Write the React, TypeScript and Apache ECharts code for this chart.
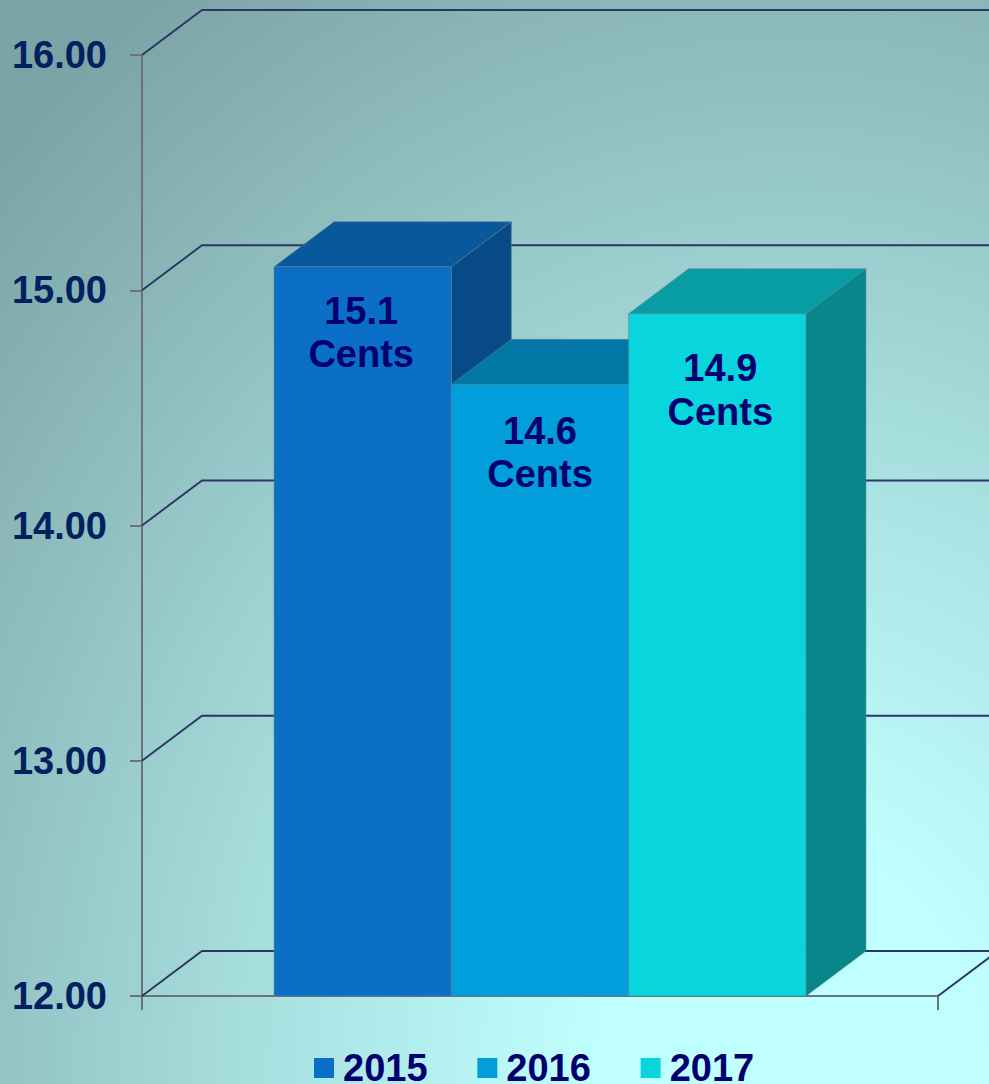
import React, { useEffect, useRef } from "react";
import * as echarts from "echarts";

const CATEGORIES = [""];
const YEARS = ["2015", "2016", "2017"];
const VALUES = [15.1, 14.6, 14.9];
const TICKS = [12, 13, 14, 15, 16];
const LABEL_UNIT = "Cents";

const FRONT = ["#0b6fc8", "#029edc", "#09d5dc"];
const TOP = ["#09589c", "#0378a6", "#089da4"];
const SIDE = ["#084a85", "#05668f", "#08878b"];
const LABEL_DY = [66, 68, 76];
const LABEL_DX = [-1.5, 0, 3];

const FONT = '"Liberation Sans", Arial, sans-serif';
const DEPTH_X = 60;
const DEPTH_Y = 45;
const BAR_RATIO = 177.3 / 796;
const EDGE = "rgba(90,130,140,0.55)";

export default function App() {
  const ref = useRef<HTMLDivElement>(null);
  useEffect(() => {
    document.body.style.margin = "0";
    const chart = echarts.init(ref.current!, null, { renderer: "svg" });

    const wallSeries: any = {
      type: "custom",
      name: "walls",
      z: 1,
      silent: true,
      data: TICKS.map((t) => [0, t]),
      renderItem: (params: any, api: any) => {
        const tick = api.value(1);
        const y = api.coord([0, tick])[1];
        const cs = params.coordSys;
        const x0 = cs.x;
        const x1 = cs.x + cs.width;
        const children: any[] = [
          {
            type: "polyline",
            shape: {
              points: [
                [x0, y],
                [x0 + DEPTH_X, y - DEPTH_Y],
                [x1 + DEPTH_X, y - DEPTH_Y],
              ],
            },
            style: { stroke: "#2c3564", lineWidth: 1.9, fill: "none" },
          },
        ];
        if (tick === TICKS[0]) {
          children.push({
            type: "line",
            shape: { x1, y1: y, x2: x1 + DEPTH_X, y2: y - DEPTH_Y },
            style: { stroke: "#2c3564", lineWidth: 1.9 },
          });
        }
        return { type: "group", children };
      },
    };

    const barSeries: any[] = YEARS.map((year, i) => ({
      type: "custom",
      name: year,
      z: 3,
      silent: true,
      itemStyle: { color: FRONT[i] },
      data: [[0, VALUES[i]]],
      renderItem: (_p: any, api: any) => {
        const value = api.value(1);
        const [cx, top] = api.coord([0, value]);
        const bottom = api.coord([0, TICKS[0]])[1];
        const catW = api.size([1, 0])[0];
        const w = catW * BAR_RATIO;
        const xl = cx + (i - 1.5) * w;
        const xr = xl + w;
        return {
          type: "group",
          children: [
            {
              type: "polygon",
              shape: {
                points: [
                  [xr, top],
                  [xr + DEPTH_X, top - DEPTH_Y],
                  [xr + DEPTH_X, bottom - DEPTH_Y],
                  [xr, bottom],
                ],
              },
              style: { fill: SIDE[i], stroke: EDGE, lineWidth: 1 },
            },
            {
              type: "polygon",
              shape: {
                points: [
                  [xl, top],
                  [xl + DEPTH_X, top - DEPTH_Y],
                  [xr + DEPTH_X, top - DEPTH_Y],
                  [xr, top],
                ],
              },
              style: { fill: TOP[i], stroke: EDGE, lineWidth: 1 },
            },
            {
              type: "rect",
              shape: { x: xl, y: top, width: w, height: bottom - top },
              style: { fill: FRONT[i], stroke: EDGE, lineWidth: 1 },
            },
            {
              type: "text",
              style: {
                x: cx + (i - 1) * w + LABEL_DX[i],
                y: top + LABEL_DY[i],
                text: `${value.toFixed(1)}\n${LABEL_UNIT}`,
                fill: "#00006e",
                font: `bold 38px ${FONT}`,
                lineHeight: 43.5,
                align: "center",
                verticalAlign: "middle",
              },
            },
          ],
        };
      },
    }));

    chart.setOption({
      animation: false,
      backgroundColor: "transparent",
      grid: { left: 142, right: 51, top: 55, bottom: 88, containLabel: false },
      legend: {
        data: YEARS,
        left: 314,
        top: 1049,
        itemWidth: 20,
        itemHeight: 20,
        itemGap: 49.8,
        icon: "rect",
        padding: 0,
        selectedMode: false,
        textStyle: {
          color: "#00006e",
          fontFamily: FONT,
          fontWeight: "bold",
          fontSize: 38,
          padding: [0, 0, 2, 4],
          height: 34,
          lineHeight: 34,
        },
      },
      xAxis: {
        type: "category",
        data: CATEGORIES,
        axisLine: { show: true, lineStyle: { color: "#6f7274", width: 2 } },
        axisTick: { show: true, length: 14, lineStyle: { color: "#6f7274", width: 2 } },
        axisLabel: { show: false },
        splitLine: { show: false },
      },
      yAxis: {
        type: "value",
        min: 12,
        max: 16,
        interval: 1,
        axisLine: { show: true, lineStyle: { color: "#6f7274", width: 2 } },
        axisTick: { show: true, length: 12, lineStyle: { color: "#6f7274", width: 2 } },
        axisLabel: {
          margin: 35,
          color: "#002060",
          fontFamily: FONT,
          fontWeight: "bold",
          fontSize: 38,
          formatter: (v: number) => v.toFixed(2),
        },
        splitLine: { show: false },
      },
      series: [wallSeries, ...barSeries],
    });
    return () => chart.dispose();
  }, []);

  return (
    <div
      ref={ref}
      style={{
        width: 989,
        height: 1084,
        overflow: "hidden",
        background:
          "radial-gradient(ellipse 1100px 1330px at 80% 100%, #c0ffff 0%, #c0ffff 18%, #a8e0e0 48%, #8fbcbd 78%, #7ba4a6 100%)",
      }}
    />
  );
}
